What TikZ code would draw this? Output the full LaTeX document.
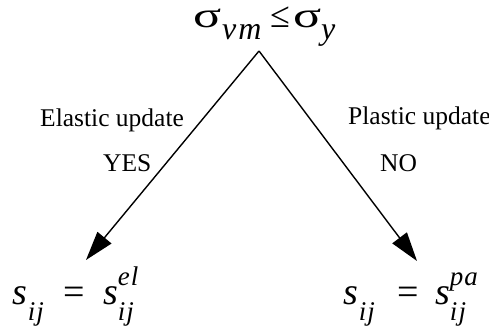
\documentclass[tikz,border=0pt]{standalone}
\usepackage{fontspec}
\usepackage{graphicx}
\setmainfont{Liberation Serif}
\usetikzlibrary{arrows.meta}
\newcommand\subsz{\fontsize{27}{27}\selectfont\itshape}
\newcommand\mainsz{\fontsize{38}{38}\selectfont}
\newcommand\sig{{\fontsize{36}{36}\selectfont\scalebox{1.45}[1]{σ}}}
\newcommand\topsub{\fontsize{32}{32}\selectfont\itshape}
\tikzset{
  lbl/.style={anchor=base west, inner sep=0pt, font=\fontsize{25.5}{25.5}\selectfont},
  eq/.style={anchor=base west, inner sep=0pt, font=\mainsz},
  arr/.style={line width=1.4pt, -{Triangle[length=29pt,width=18pt]}}
}
\begin{document}
\begin{tikzpicture}[x=1pt,y=-1pt]
\useasboundingbox (0,0) rectangle (489,328);
\node[eq] (top) at (193,28) {\makebox[29pt][l]{\sig}\makebox[48pt][l]{\raisebox{-12pt}{\topsub v\kern2pt m}}\makebox[23pt][l]{\fontsize{36}{36}\selectfont ≤}\makebox[28pt][l]{\sig}\raisebox{-12pt}{\topsub y}};
\coordinate (apex) at (259,51);
\coordinate (ltip) at (86,260);
\coordinate (rtip) at (417,261);
\draw[arr] (apex) -- (ltip);
\draw[arr] (apex) -- (rtip);
\node[lbl] (el) at (40,127) {Elastic update};
\node[lbl] (yes) at (103,172) {YES};
\node[lbl] (pl) at (348,125) {Plastic update};
\node[lbl] (no) at (380,172) {NO};
\node[eq] (fl) at (12,304) {\makebox[51pt][l]{{\itshape s}\kern1pt\raisebox{-16pt}{\subsz i\kern1pt j}}\makebox[40pt][l]{=}{\itshape s}\rlap{\raisebox{-16pt}{\subsz i\kern1pt j}}\raisebox{19pt}{\subsz e\kern1pt l}};
\node[eq] (fr) at (343,304) {\makebox[54pt][l]{{\itshape s}\kern1pt\raisebox{-16pt}{\subsz i\kern1pt j}}\makebox[38pt][l]{=}{\itshape s}\rlap{\raisebox{-16pt}{\subsz i\kern1pt j}}\raisebox{19pt}{\subsz p\kern1pt a}};
\end{tikzpicture}
\end{document}
